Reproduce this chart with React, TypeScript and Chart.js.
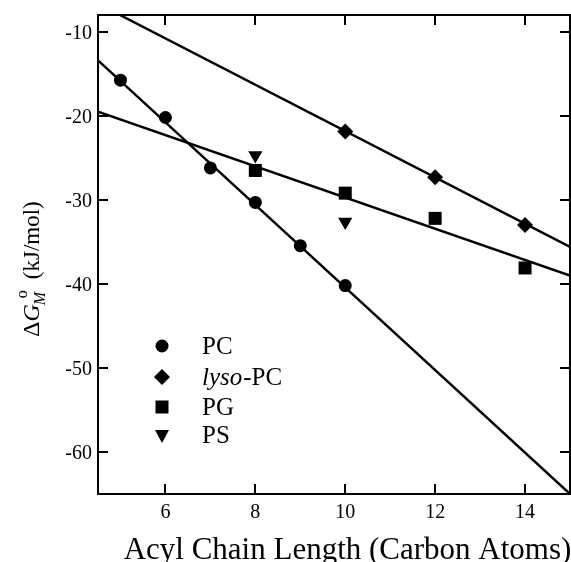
import React, { useEffect, useRef } from "react";
import { Chart, registerables } from "chart.js";

Chart.register(...registerables);

// ---- data ----
const pcX = [5, 6, 7, 8, 9, 10];
const pcY = [-15.75, -20.2, -26.2, -30.3, -35.45, -40.2];
const lysoX = [10, 12, 14];
const lysoY = [-21.85, -27.3, -33.0];
const pgX = [8, 10, 12, 14];
const pgY = [-26.5, -29.2, -32.2, -38.1];
const psX = [8, 10];
const psY = [-24.7, -32.6];

const pcFitX = [4.5, 15];
const pcFitY = [-13.4, -65.0];
const lysoFitX = [4.5, 15];
const lysoFitY = [-6.65, -35.6];
const pgFitX = [4.5, 15];
const pgFitY = [-19.5, -39.0];

const xTicks = [6, 8, 10, 12, 14];
const yTicks = [-10, -20, -30, -40, -50, -60];
const xMin = 4.5, xMax = 15, yMin = -65, yMax = -8;

const xTitle = "Acyl Chain Length (Carbon Atoms)";
const yUnits = "(kJ/mol)";

const legendItems = [
  { style: "circle", italic: "", text: "PC" },
  { style: "rectRot", italic: "lyso", text: "-PC" },
  { style: "rect", italic: "", text: "PG" },
  { style: "triangle", italic: "", text: "PS" },
];

const pts = (xs: number[], ys: number[]) => xs.map((x, i) => ({ x, y: ys[i] }));

const SERIF = '"Liberation Serif", "Times New Roman", serif';

const decorPlugin = {
  id: "decor",
  afterDraw(chart: any) {
    const ctx = chart.ctx as CanvasRenderingContext2D;
    const { left, right, top, bottom } = chart.chartArea;
    const xs = chart.scales.x;
    const ys = chart.scales.y;
    ctx.save();
    ctx.strokeStyle = "#000";
    ctx.fillStyle = "#000";
    ctx.lineWidth = 2;
    ctx.strokeRect(left, top, right - left, bottom - top);
    const tl = 10;
    ctx.beginPath();
    xTicks.forEach((v) => {
      const px = Math.round(xs.getPixelForValue(v));
      ctx.moveTo(px, bottom);
      ctx.lineTo(px, bottom - tl);
      ctx.moveTo(px, top);
      ctx.lineTo(px, top + tl);
    });
    yTicks.forEach((v) => {
      const py = Math.round(ys.getPixelForValue(v));
      ctx.moveTo(left, py);
      ctx.lineTo(left + tl, py);
      ctx.moveTo(right, py);
      ctx.lineTo(right - tl, py);
    });
    ctx.stroke();

    // tick labels
    ctx.font = `20px ${SERIF}`;
    ctx.textAlign = "center";
    ctx.textBaseline = "alphabetic";
    xTicks.forEach((v) => {
      ctx.fillText(String(v), xs.getPixelForValue(v), bottom + 24);
    });
    ctx.textAlign = "right";
    yTicks.forEach((v) => {
      ctx.fillText(String(v), left - 6, ys.getPixelForValue(v) + 7);
    });

    // x title
    ctx.font = `31px ${SERIF}`;
    ctx.textAlign = "center";
    ctx.fillText(xTitle, 347.5, 559);

    // y title
    ctx.save();
    ctx.translate(39, 337);
    ctx.rotate(-Math.PI / 2);
    ctx.textAlign = "left";
    let cx = 0;
    ctx.font = `24px ${SERIF}`;
    ctx.fillText("\u0394", cx, 0);
    cx += ctx.measureText("\u0394").width;
    ctx.font = `italic 24px ${SERIF}`;
    ctx.fillText("G", cx, 0);
    cx += ctx.measureText("G").width;
    ctx.font = `italic 16px ${SERIF}`;
    ctx.fillText("M", cx - 1, 6);
    const mw = ctx.measureText("M").width;
    ctx.font = `16px ${SERIF}`;
    ctx.fillText("o", cx + 6, -12);
    cx += mw + 6;
    ctx.font = `23px ${SERIF}`;
    ctx.fillText(" " + yUnits, cx, 0);
    ctx.restore();

    // legend
    const rowsY = [346, 377, 407, 435];
    const mx = 162;
    const tx = 202;
    ctx.textAlign = "left";
    legendItems.forEach((it, i) => {
      const y = rowsY[i];
      ctx.beginPath();
      if (it.style === "circle") {
        ctx.arc(mx, y, 6.5, 0, Math.PI * 2);
      } else if (it.style === "rectRot") {
        ctx.moveTo(mx, y - 8);
        ctx.lineTo(mx + 8, y);
        ctx.lineTo(mx, y + 8);
        ctx.lineTo(mx - 8, y);
      } else if (it.style === "rect") {
        ctx.rect(mx - 6.5, y - 6.5, 13, 13);
      } else {
        ctx.moveTo(mx - 7, y - 5);
        ctx.lineTo(mx + 7, y - 5);
        ctx.lineTo(mx, y + 8);
      }
      ctx.closePath();
      ctx.fill();
      let lx = tx;
      const by = y + 8;
      if (it.italic) {
        ctx.font = `italic 25px ${SERIF}`;
        ctx.fillText(it.italic, lx, by);
        lx += ctx.measureText(it.italic).width + 1;
      }
      ctx.font = `25px ${SERIF}`;
      ctx.fillText(it.text, lx, by);
    });
    ctx.restore();
  },
};

export default function App() {
  const ref = useRef<HTMLCanvasElement | null>(null);
  useEffect(() => {
    if (!ref.current) return;
    const lineDs = (xs: number[], ys: number[]) => ({
      data: pts(xs, ys),
      showLine: true,
      borderColor: "#000",
      borderWidth: 2.4,
      pointRadius: 0,
      fill: false,
    });
    const ptDs = (xs: number[], ys: number[], style: string, r: number, rot = 0) => ({
      data: pts(xs, ys),
      showLine: false,
      pointStyle: style,
      pointRadius: r,
      pointRotation: rot,
      backgroundColor: "#000",
      borderColor: "#000",
      borderWidth: 0,
    });
    const chart = new Chart(ref.current, {
      type: "scatter",
      data: {
        datasets: [
          lineDs(pcFitX, pcFitY),
          lineDs(lysoFitX, lysoFitY),
          lineDs(pgFitX, pgFitY),
          ptDs(pcX, pcY, "circle", 6.5),
          ptDs(lysoX, lysoY, "rectRot", 8),
          ptDs(pgX, pgY, "rect", 9.2),
          ptDs(psX, psY, "triangle", 8.2, 180),
        ] as any,
      },
      options: {
        animation: false,
        responsive: true,
        maintainAspectRatio: false,
        devicePixelRatio: 1,
        layout: { autoPadding: false, padding: { left: 98, top: 15, right: 1, bottom: 68 } },
        plugins: { legend: { display: false }, tooltip: { enabled: false } },
        scales: {
          x: { type: "linear", min: xMin, max: xMax, display: false },
          y: { type: "linear", min: yMin, max: yMax, display: false },
        },
      },
      plugins: [decorPlugin],
    });
    return () => chart.destroy();
  }, []);
  return (
    <div style={{ position: "fixed", left: 0, top: 0, width: 571, height: 562, background: "#fff" }}>
      <canvas ref={ref} style={{ display: "block" }} />
    </div>
  );
}
